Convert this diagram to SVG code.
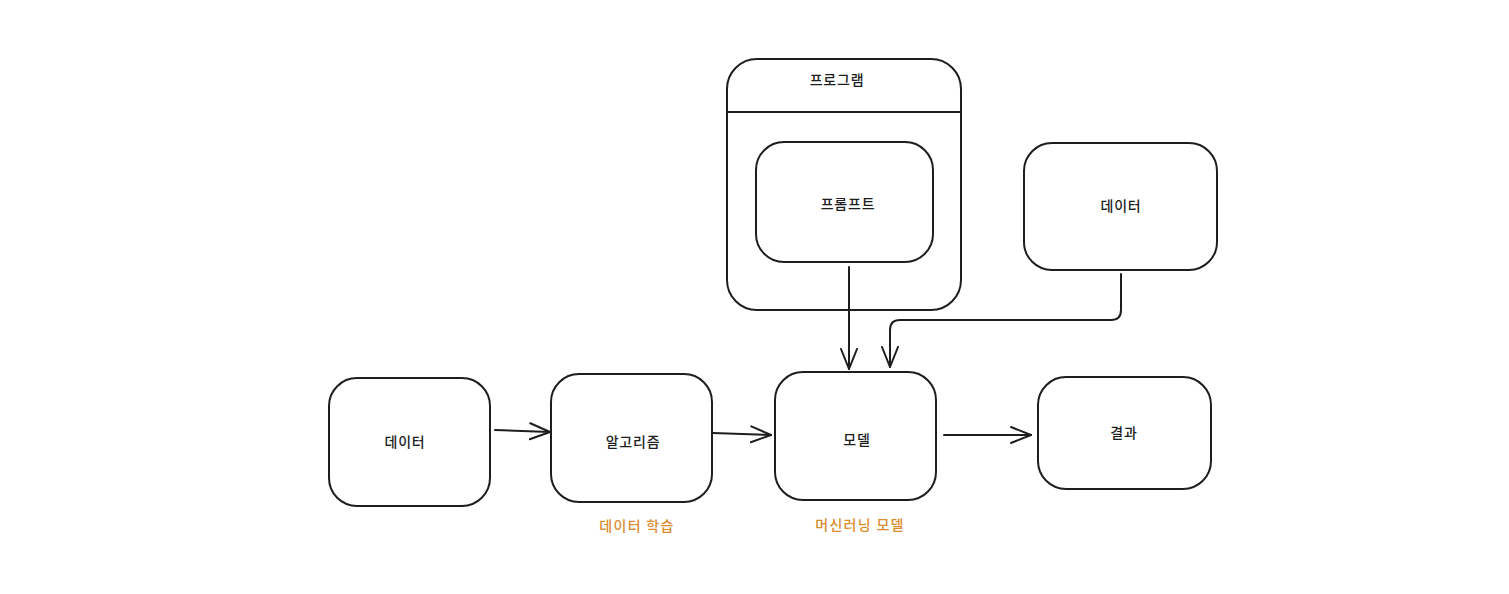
<svg xmlns="http://www.w3.org/2000/svg" width="1509" height="594" viewBox="0 0 1509 594">
<defs>
<style>
.box{fill:#fff;stroke:#1e1e1e;stroke-width:2}
.t{font-family:"Noto Sans CJK KR","Noto Sans",sans-serif;font-size:14px;font-weight:500;letter-spacing:0.8px;fill:#1e1e1e;text-anchor:middle;dominant-baseline:central}
.lbl{font-family:"Noto Sans CJK KR","Noto Sans",sans-serif;font-size:14px;font-weight:500;letter-spacing:1.3px;fill:#d98c30;text-anchor:middle;dominant-baseline:central}
.c{fill:none;stroke:#1e1e1e;stroke-width:2;stroke-linecap:round;stroke-linejoin:round}
</style>
<marker id="ah" viewBox="0 0 22 22" refX="21" refY="11" markerWidth="22" markerHeight="22" markerUnits="userSpaceOnUse" orient="auto">
<path d="M1,3 L21,11 L1,19" fill="none" stroke="#1e1e1e" stroke-width="2" stroke-linecap="round" stroke-linejoin="round"/>
</marker>
</defs>
<rect width="1509" height="594" fill="#fff"/>
<g id="program">
<rect class="box" x="727" y="59" width="234" height="251" rx="30"/>
<line class="c" x1="727" y1="112" x2="961" y2="112"/>
<text class="t" x="837" y="79">프로그램</text>
</g>
<g id="prompt">
<rect class="box" x="756" y="142" width="177" height="120" rx="28"/>
<text class="t" x="848" y="203">프롬프트</text>
</g>
<g id="data-top">
<rect class="box" x="1024" y="143" width="193" height="127" rx="28"/>
<text class="t" x="1121" y="205">데이터</text>
</g>
<g id="data-left">
<rect class="box" x="329" y="378" width="161" height="128" rx="28"/>
<text class="t" x="405" y="441">데이터</text>
</g>
<g id="algorithm">
<rect class="box" x="551" y="374" width="161" height="128" rx="28"/>
<text class="t" x="633" y="441">알고리즘</text>
<text class="lbl" x="637" y="525">데이터 학습</text>
</g>
<g id="model">
<rect class="box" x="775" y="372" width="161" height="128" rx="28"/>
<text class="t" x="857" y="439">모델</text>
<text class="lbl" x="860" y="524">머신러닝 모델</text>
</g>
<g id="result">
<rect class="box" x="1038" y="377" width="173" height="112" rx="28"/>
<text class="t" x="1124" y="432">결과</text>
</g>
<g id="connectors">
<path class="c" d="M495,430 L550,432" marker-end="url(#ah)"/>
<path class="c" d="M713,433 L771,435" marker-end="url(#ah)"/>
<path class="c" d="M944,435 L1031,435" marker-end="url(#ah)"/>
<path class="c" d="M849,267 L849,369" marker-end="url(#ah)"/>
<path class="c" d="M1121,274 L1121,310 Q1121,320 1111,320 L900,320 Q890,320 890,330 L890,367" marker-end="url(#ah)"/>
</g>
</svg>
